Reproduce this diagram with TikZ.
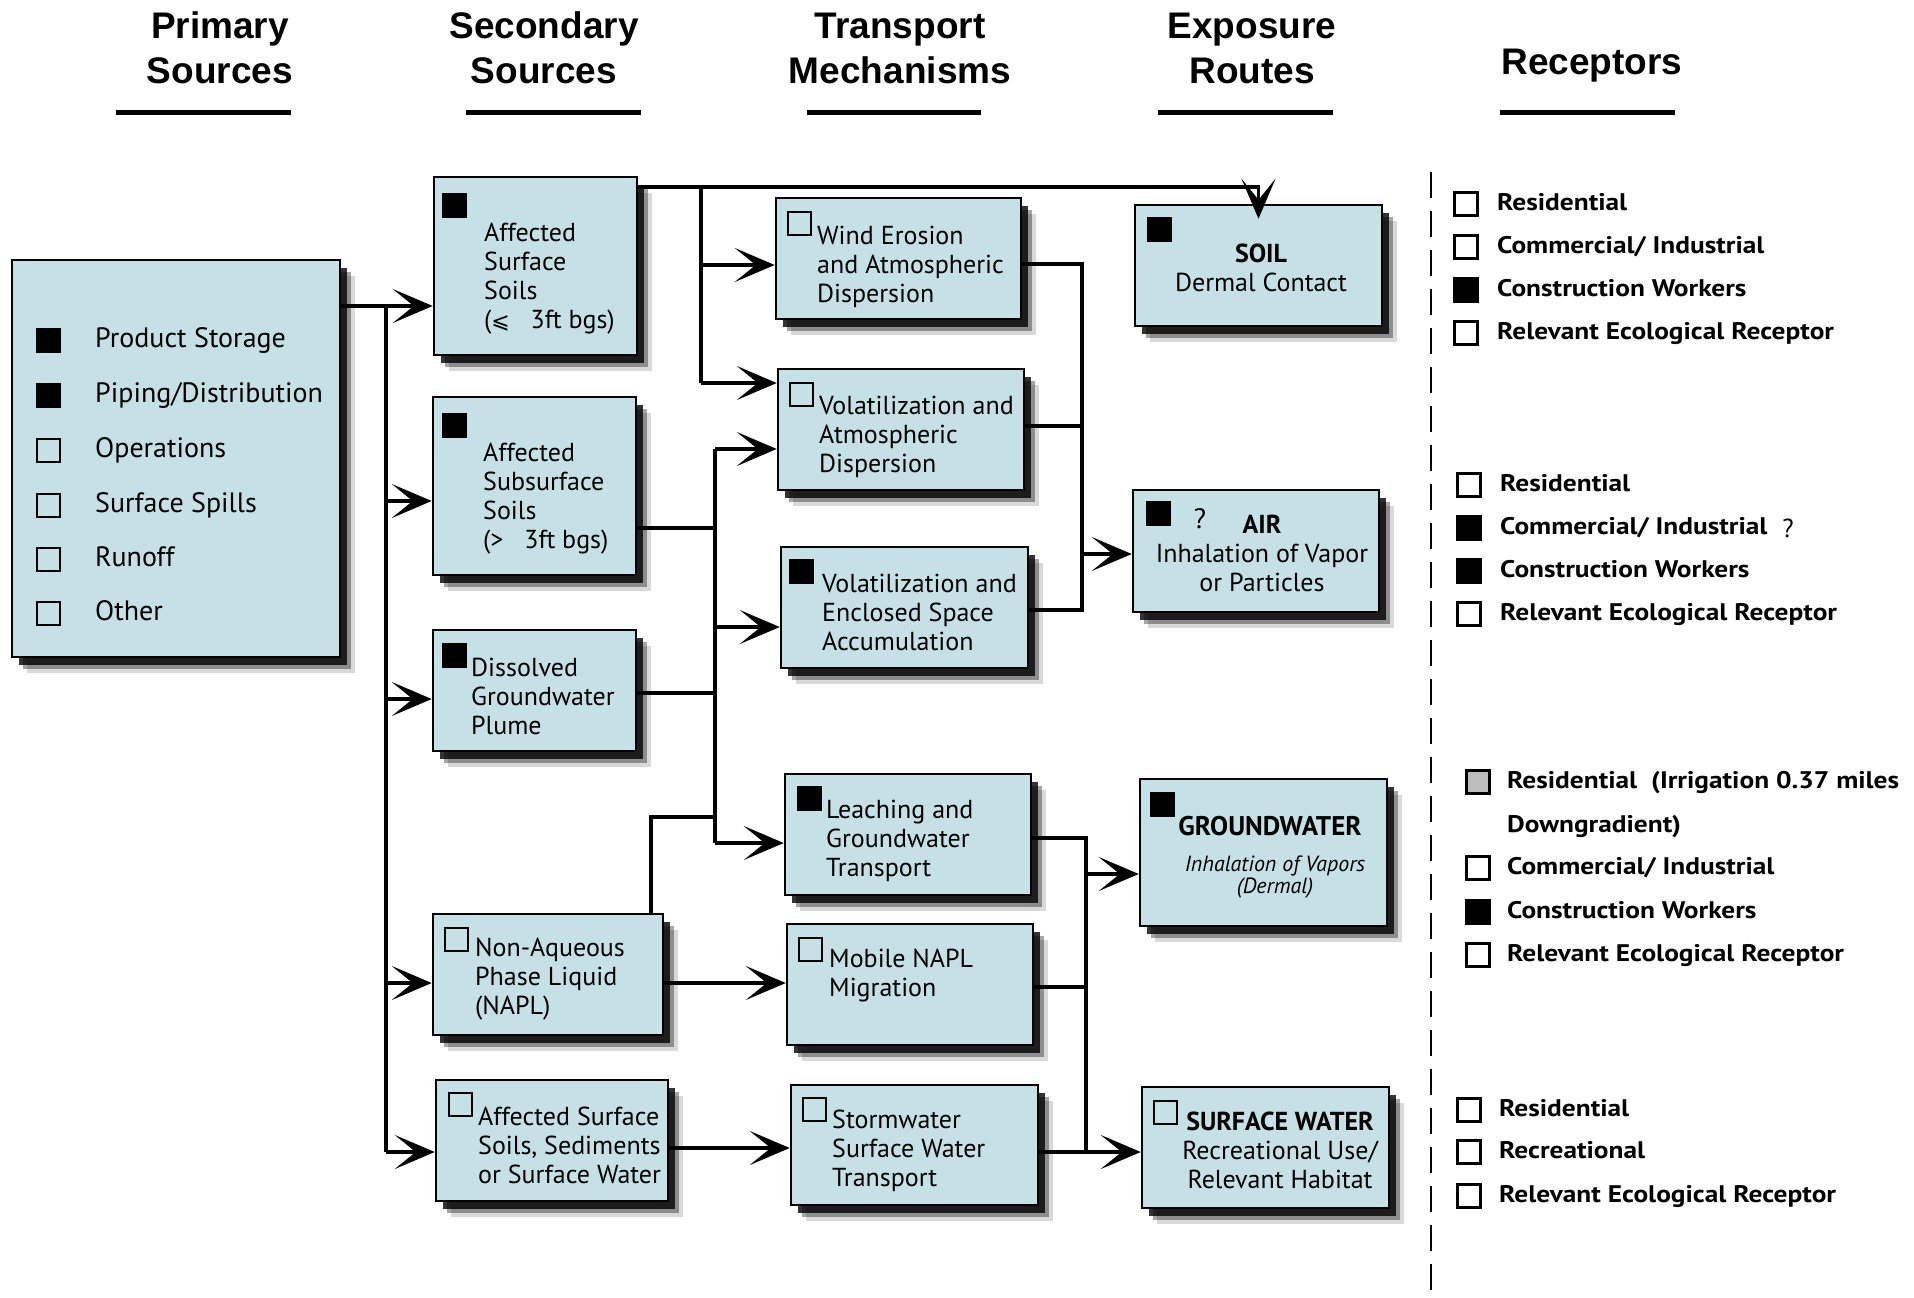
\documentclass[tikz,border=0pt]{standalone}
\usepackage{fontspec}
\setmainfont{PT Sans}
\newfontfamily\headfont{Liberation Sans}
\newfontfamily\recfont[FakeStretch=1.14]{PT Sans}
\newfontfamily\symfont{DejaVu Sans}
\usetikzlibrary{arrows.meta,shadows}
\definecolor{boxblue}{HTML}{C6E1E6}
\definecolor{sqgrey}{HTML}{BDBDBD}
\begin{document}
\begin{tikzpicture}[x=1pt,y=-1pt,
  every node/.style={inner sep=0pt},
  box/.style={draw,line width=2.5pt,fill=boxblue,
    drop shadow={shadow xshift=15pt,shadow yshift=-16pt,fill=black,opacity=.15},
    drop shadow={shadow xshift=11pt,shadow yshift=-12pt,fill=black,opacity=.35},
    drop shadow={shadow xshift=7pt,shadow yshift=-8pt,fill=black,opacity=.8}},
  sq/.style={draw,line width=2pt,minimum size=23pt},
  txt/.style={anchor=west,align=left,font=\fontsize{26}{29}\selectfont},
  ctxt/.style={align=center,font=\fontsize{26}{29}\selectfont},
  head/.style={align=center,font=\headfont\bfseries\fontsize{37}{45}\selectfont},
  rec/.style={anchor=west,text height=18pt,text depth=6pt,font=\recfont\bfseries\fontsize{24}{28}\selectfont},
  conn/.style={line width=3.5pt},
  arr/.style={conn,-{Stealth[length=40pt,width=34pt,inset=21pt]}},
  rule/.style={line width=5pt}]
\useasboundingbox (0,0) rectangle (1914,1298);

% column headings
\node[head] (h1) at (220,48) {Primary\\Sources};
\node[head] (h2) at (544,48) {Secondary\\Sources};
\node[head] (h3) at (900,48) {Transport\\Mechanisms};
\node[head] (h4) at (1252,48) {Exposure\\Routes};
\node[head] (h5) at (1592,66) {Receptors};
\foreach \a/\b in {116/291,466/641,807/981,1158/1333,1500/1675}
  \draw[rule] (\a,112) -- (\b,112);

% boxes
\node[box,minimum width=328pt,minimum height=397pt] (prim) at (176,458.5) {};
\node[box,minimum width=203pt,minimum height=178pt] (ass) at (535.5,266) {};
\node[box,minimum width=203pt,minimum height=178pt] (asubs) at (534.5,486) {};
\node[box,minimum width=203pt,minimum height=121pt] (dgp) at (534.5,690.5) {};
\node[box,minimum width=230pt,minimum height=121pt] (napl) at (548,974.5) {};
\node[box,minimum width=232pt,minimum height=121pt] (assed) at (552,1140.5) {};
\node[box,minimum width=245pt,minimum height=121pt] (wind) at (898.5,258.5) {};
\node[box,minimum width=246pt,minimum height=121pt] (volatm) at (901,429.5) {};
\node[box,minimum width=247pt,minimum height=121pt] (volenc) at (904.5,607.5) {};
\node[box,minimum width=246pt,minimum height=121pt] (leach) at (908,834.5) {};
\node[box,minimum width=246pt,minimum height=121pt] (mnapl) at (910,984.5) {};
\node[box,minimum width=247pt,minimum height=120pt] (storm) at (914.5,1145) {};
\node[box,minimum width=247pt,minimum height=121pt] (soil) at (1258.5,265.5) {};
\node[box,minimum width=246pt,minimum height=122pt] (air) at (1256,551) {};
\node[box,minimum width=247pt,minimum height=147pt] (gw) at (1263.5,852.5) {};
\node[box,minimum width=247pt,minimum height=121pt] (sw) at (1265.5,1147.5) {};

% primary sources
\foreach \y/\f/\t [count=\i] in {340/black/Product Storage,395/black/{Piping/Distribution},
    450/none/Operations,505/none/Surface Spills,559/none/Runoff,613/none/Other}{
  \node[sq,fill=\f] (ps\i) at (48,\y) {};
  \node[txt,text height=20pt,text depth=6pt,font=\fontsize{28}{29}\selectfont] (pt\i) at (95,\y) {\t};
}

% box markers
\foreach \n/\x/\y/\f in {ass/454/205/black,asubs/454/425/black,dgp/454.5/655/black,
    napl/456.5/939/none,assed/460/1104.5/none,wind/799.5/223/none,volatm/801.5/394/none,
    volenc/801.5/571.5/black,leach/809/798.5/black,mnapl/810.5/949/none,storm/814.5/1109/none,
    soil/1159/229.5/black,air/1158/513/black,gw/1162.5/804/black,sw/1165.5/1112/none}
  \node[sq,fill=\f] (\n-m) at (\x,\y) {};

% box texts
\node[txt] (ass-t) at (484,279) {Affected\\Surface\\Soils\\({\symfont\fontsize{22}{29}\selectfont ⩽}\ \ \ 3ft bgs)};
\node[txt] (asubs-t) at (483,499) {Affected\\Subsurface\\Soils\\(>\ \ \ 3ft bgs)};
\node[txt] (dgp-t) at (471,696) {Dissolved\\Groundwater\\Plume};
\node[txt] (napl-t) at (475,979) {Non-Aqueous\\Phase Liquid\\(NAPL)};
\node[txt] (assed-t) at (478,1145) {Affected Surface\\Soils, Sediments\\or Surface Water};
\node[txt] (wind-t) at (817,267) {Wind Erosion\\and Atmospheric\\Dispersion};
\node[txt] (volatm-t) at (819,437) {Volatilization and\\Atmospheric\\Dispersion};
\node[txt] (volenc-t) at (822,612) {Volatilization and\\Enclosed Space\\Accumulation};
\node[txt] (leach-t) at (826,841) {Leaching and\\Groundwater\\Transport};
\node[txt] (mnapl-t) at (829,976) {Mobile NAPL\\Migration};
\node[txt] (storm-t) at (832,1151) {Stormwater\\Surface Water\\Transport};
\node[ctxt] (soil-t) at (1261,268) {\textbf{SOIL}\\Dermal Contact};
\node[ctxt] (air-t) at (1262,553) {\textbf{AIR}\\Inhalation of Vapor\\or Particles};
\node[font=\fontsize{28}{29}\selectfont] (air-q) at (1200,519) {?};
\node[font=\bfseries\fontsize{27}{29}\selectfont] (gw-t) at (1270,826) {GROUNDWATER};
\node[align=center,font=\itshape\fontsize{22}{16}\selectfont] (gw-n) at (1275,877) {Inhalation of Vapors\\(Dermal)};
\node[ctxt] (sw-t) at (1280,1150) {\textbf{SURFACE WATER}\\Recreational Use/\\Relevant Habitat};

% primary -> secondary
\coordinate (pt) at (386,306);
\coordinate (pb) at (386,1152);
\draw[conn] (prim.east |- pt) -- (pt) -- (pb);
\draw[arr] (pt) -- (pt -| ass.west);
\foreach \n/\y in {asubs/501,dgp/699,napl/983,assed/1152}
  \draw[arr] (386,\y) -- (386,\y -| \n.west);

% secondary -> transport
\coordinate (st) at (701,187);
\draw[arr] (ass.east |- st) -| ([yshift=-15pt]soil.north);
\draw[conn] (st) -- (701,383);
\draw[arr] (701,265) -- (701,265 -| wind.west);
\draw[arr] (701,383) -- (701,383 -| volatm.west);
\coordinate (sm) at (715,528);
\draw[conn] (asubs.east |- sm) -- (sm);
\draw[conn] (715,449) -- (715,843);
\draw[conn] (dgp.east |- 0,693) -- (715,693);
\draw[conn] (napl.north -| 651,0) |- (715,817);
\foreach \n/\y in {volatm/449,volenc/627,leach/843}
  \draw[arr] (715,\y) -- (715,\y -| \n.west);
\draw[arr] (napl.east |- 0,983) -- (mnapl.west |- 0,983);
\draw[arr] (assed.east |- 0,1148) -- (storm.west |- 0,1148);

% transport -> exposure
\draw[conn] (wind.east |- 0,264) -- (1082,264) -- (1082,610) -- (volenc.east |- 0,610);
\draw[conn] (volatm.east |- 0,426) -- (1082,426);
\draw[arr] (1082,554) -- (air.west |- 0,554);
\draw[conn] (leach.east |- 0,838) -- (1086,838) -- (1086,1152);
\draw[conn] (mnapl.east |- 0,987) -- (1086,987);
\draw[arr] (1086,874) -- (gw.west |- 0,874);
\draw[arr] (storm.east |- 0,1152) -- (sw.west |- 0,1152);

% receptors
\draw[line width=2.5pt,dash pattern=on 26pt off 13pt] (1431,172) -- (1431,1298);
\foreach \y/\f/\t [count=\i] in {204/white/Residential,247/white/{Commercial/ Industrial},
    290/black/Construction Workers,333/white/Relevant Ecological Receptor}{
  \node[sq,line width=2.5pt,fill=\f] (ra\i) at (1466,\y) {};
  \node[rec] (rat\i) at (1497,\y) {\t};
}
\foreach \y/\f/\t [count=\i] in {485/white/Residential,528/black/{Commercial/ Industrial},
    571/black/Construction Workers,614/white/Relevant Ecological Receptor}{
  \node[sq,line width=2.5pt,fill=\f] (rb\i) at (1469,\y) {};
  \node[rec] (rbt\i) at (1500,\y) {\t};
}
\node[font=\fontsize{26}{29}\selectfont] (rb-q) at (1788,528) {?};
\node[sq,line width=2.5pt,fill=sqgrey] (rc1) at (1478,782) {};
\node[rec] (rct1) at (1507,782) {Residential\ \ (Irrigation 0.37 miles};
\node[rec] (rct0) at (1507,826) {Downgradient)};
\foreach \y/\f/\t [count=\i from 2] in {868/white/{Commercial/ Industrial},
    912/black/Construction Workers,955/white/Relevant Ecological Receptor}{
  \node[sq,line width=2.5pt,fill=\f] (rc\i) at (1478,\y) {};
  \node[rec] (rct\i) at (1507,\y) {\t};
}
\foreach \y/\t [count=\i] in {1110/Residential,1152/Recreational,1196/Relevant Ecological Receptor}{
  \node[sq,line width=2.5pt,fill=white] (rd\i) at (1469,\y) {};
  \node[rec] (rdt\i) at (1499,\y) {\t};
}
\end{tikzpicture}
\end{document}
